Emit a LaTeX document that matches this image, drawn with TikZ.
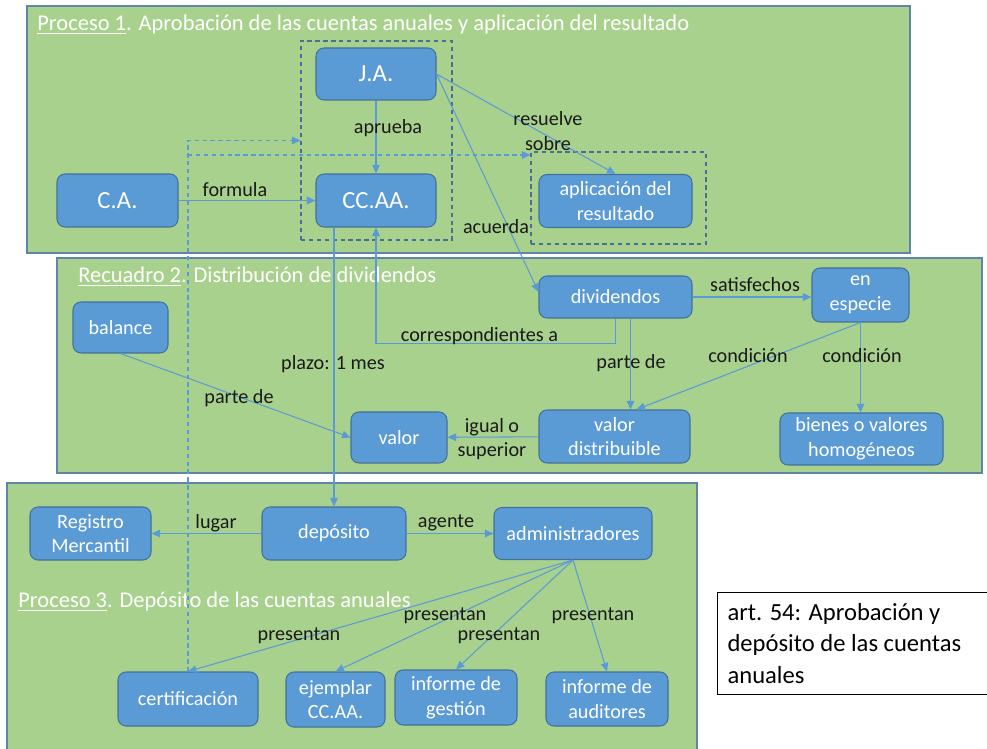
\documentclass[tikz,border=0pt]{standalone}
\usepackage{fontspec}
\setmainfont{Carlito}
\usetikzlibrary{arrows.meta, positioning}

\definecolor{panelgreen}{HTML}{A9D18E}
\definecolor{panelline}{HTML}{5F86A8}
\definecolor{boxblue}{HTML}{5B9BD5}
\definecolor{boxline}{HTML}{41719C}
\definecolor{lineblue}{HTML}{5B9BD5}
\definecolor{grpline}{HTML}{4A6F91}
\definecolor{labeltext}{HTML}{1A1A1A}

\begin{document}
\begin{tikzpicture}[x=0.02cm, y=-0.02cm,
    box/.style={draw=boxline, fill=boxblue, text=white, rounded corners=0.16cm,
      align=center, inner sep=1pt, line width=0.6pt, font=\fontsize{11.5}{14}\selectfont},
    bigbox/.style={box, font=\fontsize{14}{17}\selectfont},
    sz/.style 2 args={minimum width=#1*0.02cm, minimum height=#2*0.02cm},
    grp/.style={draw=grpline, line width=0.6pt, dash pattern=on 2.5pt off 2pt, inner sep=0pt},
    arr/.style={draw=lineblue, line width=0.6pt, -{Triangle[length=1.7mm,width=1.5mm]}},
    darr/.style={arr, dash pattern=on 2.5pt off 2pt},
    lbl/.style={text=labeltext, inner sep=0pt, align=center, font=\fontsize{11.5}{14}\selectfont},
    ttl/.style={text=white, inner sep=0pt, anchor=west, font=\fontsize{12.8}{15}\selectfont},
    panel/.style={draw=panelline, fill=panelgreen, line width=0.6pt}]
    \useasboundingbox (0,0) rectangle (987,749);

    % Panels
    \draw[panel] (27,6) rectangle (910,253);
    \draw[panel] (57,258) rectangle (982,473);
    \draw[panel] (7,483) rectangle (697,760);
    \node[ttl] (t1) at (37,25) {\underline{Proceso 1}. Aprobación de las cuentas anuales y aplicación del resultado};
    \node[ttl] (t2) at (78,277) {\underline{Recuadro 2}. Distribución de dividendos};
    \node[ttl] (t3) at (18,602) {\underline{Proceso 3}. Depósito de las cuentas anuales};

    % Dashed groups
    \node[grp, sz={151}{199}] (grp1) at (376.5,140.5) {};
    \node[grp, sz={175}{92}] (grp2) at (618.5,198) {};

    % Proceso 1
    \node[bigbox, sz={120}{52}] (ja) at (376,74) {J.A.};
    \node[bigbox, sz={120}{53}] (ccaa) at (376,200.5) {CC.AA.};
    \node[bigbox, sz={121}{53}] (ca) at (117.5,200.5) {C.A.};
    \node[box, sz={153}{53}] (aplic) at (615.5,201) {aplicación del\\resultado};

    % Recuadro 2
    \node[box, sz={95}{51}] (balance) at (120.5,327.5) {balance};
    \node[box, sz={153}{42}] (divid) at (615.5,297) {dividendos};
    \node[box, sz={97}{54}] (especie) at (860.5,295) {en\\especie};
    \node[box, sz={96}{51}] (valor) at (399,437.5) {valor};
    \node[box, sz={151}{53}] (vdist) at (614.5,436.5) {valor\\distribuible};
    \node[box, sz={163}{52}] (bienes) at (861.5,439) {bienes o valores\\homogéneos};

    % Proceso 3
    \node[box, sz={121}{53}] (regm) at (90.5,533.5) {Registro\\Mercantil};
    \node[box, sz={144}{53}] (depo) at (334,533.5) {depósito};
    \node[box, sz={158}{52}] (admin) at (573,533.5) {administradores};
    \node[box, sz={140}{54}] (cert) at (188,699) {certificación};
    \node[box, sz={99}{55}] (ejem) at (335.5,699.5) {ejemplar\\CC.AA.};
    \node[box, sz={122}{55}] (gest) at (456,697.5) {informe de\\gestión};
    \node[box, sz={122}{54}] (audit) at (607,699) {informe de\\auditores};

    % Article
    \node[draw=black, fill=white, line width=0.6pt, anchor=north west, sz={280}{102},
      inner xsep=0.2cm, text width=5.2cm, align=flush left,
      font=\fontsize{14}{18}\selectfont] (art) at (717,592)
      {art. 54: Aprobación y\\depósito de las cuentas\\anuales};

    % Connectors
    \draw[arr] (ca) -- (ccaa);
    \draw[arr] (ja) -- (ccaa);
    \draw[arr] (ja.east) -- (aplic.north);
    \draw[arr] (ja.east) -- ([yshift=0.1cm]divid.west);
    \draw[arr] (divid.south) -- ++(0,25) -| (ccaa.south);
    \draw[arr] ([xshift=0.3cm]divid.south) -- ([xshift=0.3cm]divid.south |- vdist.north);
    \draw[arr] (ccaa.south -| depo.north) -- (depo.north);
    \draw[arr] (divid.east) -- (divid.east -| especie.west);
    \draw[arr] (especie.south) -- ([xshift=0.44cm]vdist.north);
    \draw[arr] (especie.south) -- (especie.south |- bienes.north);
    \draw[arr] (vdist) -- (valor);
    \draw[arr] (balance.south) -- (valor.west);
    \draw[arr] (depo) -- (regm);
    \draw[arr] (depo) -- (admin);
    \foreach \t in {cert, ejem, gest, audit}
      \draw[arr] (admin.south) -- (\t.north);
    \coordinate (split) at (188,155);
    \draw[darr] (cert.north) |- (grp1.west);
    \draw[darr] (split) -- (split -| grp2.west);

    % Labels
    \node[lbl] (lformula) at (235,190) {formula};
    \node[lbl] (laprueba) at (388,128) {aprueba};
    \node[lbl] (lresuelve) at (548,131) {resuelve\\sobre};
    \node[lbl] (lacuerda) at (496,227) {acuerda};
    \node[lbl] (lcorresp) at (479.5,336) {correspondientes a};
    \node[lbl] (lplazo) at (333,364) {plazo: 1 mes};
    \node[lbl] (lparte1) at (239,398) {parte de};
    \node[lbl] (ligual) at (492,439) {igual o\\superior};
    \node[lbl] (lsatisf) at (755,285) {satisfechos};
    \node[lbl] (lparte2) at (631,363) {parte de};
    \node[lbl] (lcond1) at (748,356) {condición};
    \node[lbl] (lcond2) at (862,356) {condición};
    \node[lbl] (llugar) at (216,523) {lugar};
    \node[lbl] (lagente) at (446,523) {agente};
    \node[lbl] (lpres1) at (299,636) {presentan};
    \node[lbl] (lpres2) at (445,616) {presentan};
    \node[lbl] (lpres3) at (499,636) {presentan};
    \node[lbl] (lpres4) at (593,616) {presentan};
\end{tikzpicture}
\end{document}
